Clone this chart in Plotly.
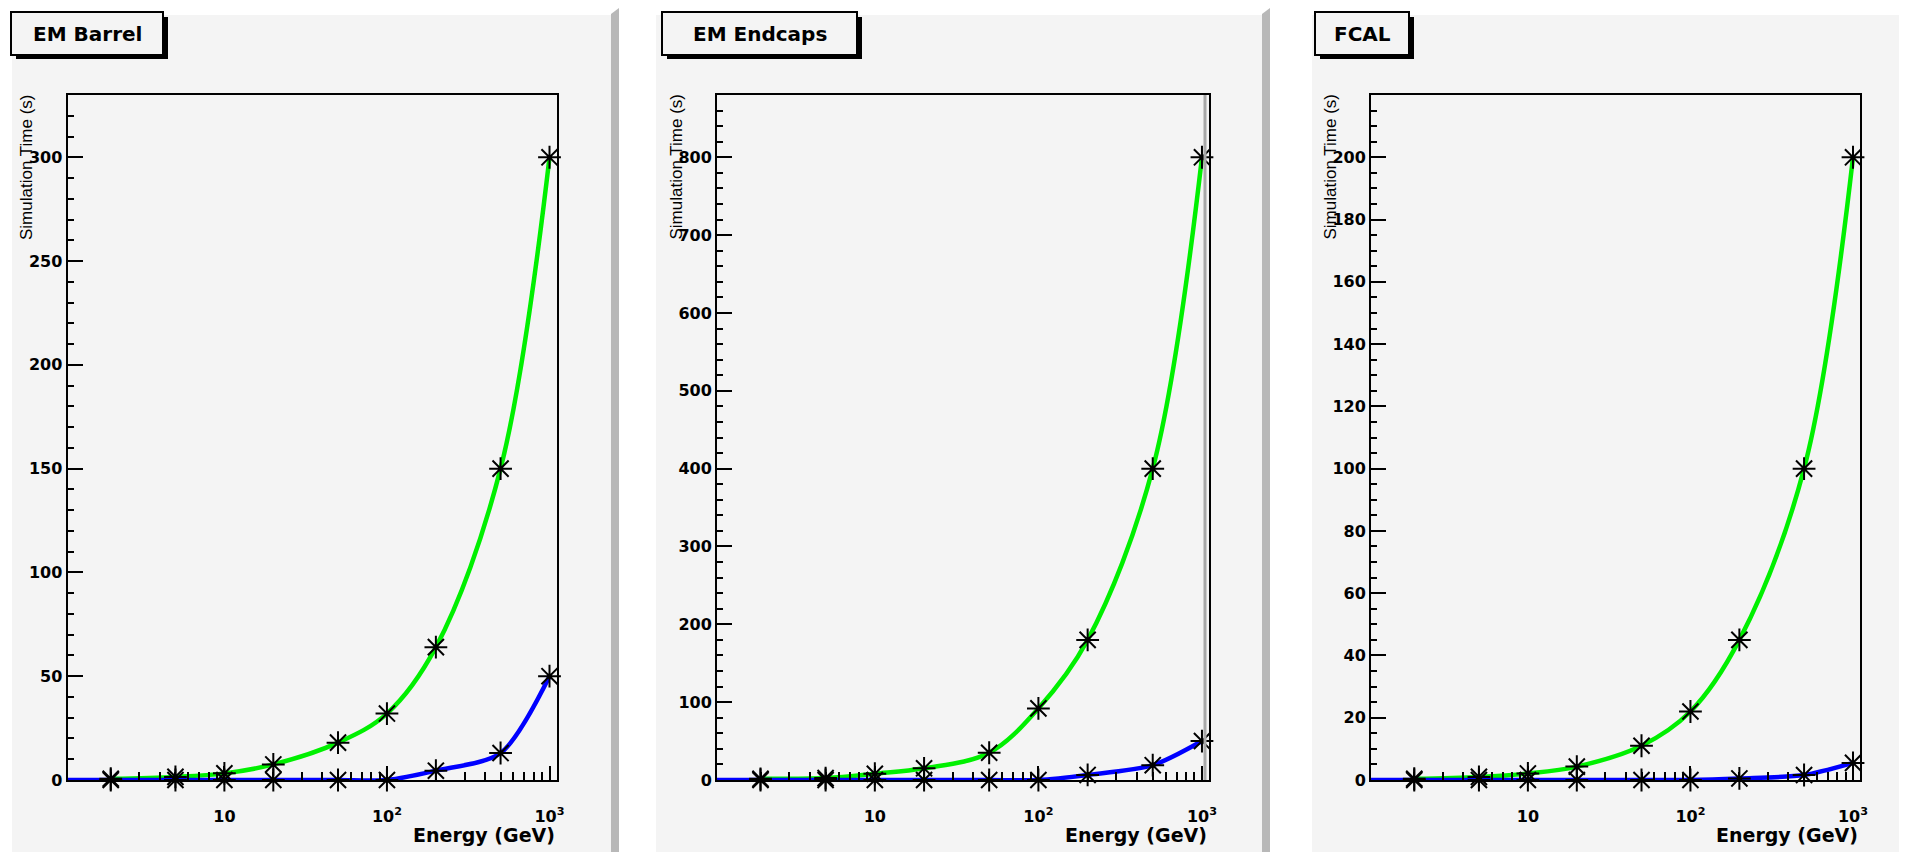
import plotly.graph_objects as go

# ---------------- data ----------------
energy = [2, 5, 10, 20, 50, 100, 200, 500, 1000]
curve_start_energy = 1.08          # the fitted curves start at the left frame edge
curve_start_value = 0.0

panel_titles = ["EM Barrel", "EM Endcaps", "FCAL"]

barrel_green = [0.6, 1.5, 3.2, 7.5, 18, 32, 64, 150, 300]
barrel_blue = [0, 0, 0, 0, 0, 0, 4.5, 13, 50]
endcap_green = [1.5, 2.5, 8, 15, 35, 92, 180, 400, 800]
endcap_blue = [0, 0, 0, 0, 0, 0, 6.5, 19, 50]
fcal_green = [0.4, 1.0, 2.1, 4.3, 11, 22, 45, 100, 200]
fcal_blue = [0, 0, 0, 0, 0, 0, 0.5, 1.6, 5.5]

green_series = [barrel_green, endcap_green, fcal_green]
blue_series = [barrel_blue, endcap_blue, fcal_blue]

y_max = [330, 880, 220]
y_ticks_barrel = [0, 50, 100, 150, 200, 250, 300]
y_ticks_endcap = [0, 100, 200, 300, 400, 500, 600, 700, 800]
y_ticks_fcal = [0, 20, 40, 60, 80, 100, 120, 140, 160, 180, 200]
y_ticks = [y_ticks_barrel, y_ticks_endcap, y_ticks_fcal]
y_minor_step = [10, 20, 5]

x_tickvals = [10, 100, 1000]
x_ticktext = ["10", "10<sup>2</sup>", "10<sup>3</sup>"]
x_minor_tickvals = [2, 3, 4, 5, 6, 7, 8, 9,
                    20, 30, 40, 50, 60, 70, 80, 90,
                    200, 300, 400, 500, 600, 700, 800, 900]
x_log_range = [0.035, 3.043]

y_title = "Simulation Time (s)"
x_title = "Energy (GeV)"

# ---------------- layout geometry (screen pixels) ----------------
PAGE_MARGIN = 8                 # default body margin of the html page
W, H = 1907 - 2 * PAGE_MARGIN, 860 - 2 * PAGE_MARGIN

def px(x):
    return (x - PAGE_MARGIN) / W

def py(y):
    return 1 - (y - PAGE_MARGIN) / H

frames = [(67.5, 556.5), (717, 1209), (1371, 1860)]
frame_top, frame_bottom = 95, 780
panel_bg = [(12, 611), (656, 1262), (1312, 1915)]
bars = [(611, 619), (1262, 1270)]
title_boxes = [(11, 163), (662, 857), (1315, 1409)]
box_top, box_bottom = 12, 55

BG = "#f4f4f4"
GREEN = "#00f000"
BLUE = "#0000ff"
TICK_FONT = dict(family="DejaVu Sans", size=16, color="black", weight=700)

fig = go.Figure()

for i in range(3):
    ax = "" if i == 0 else str(i + 1)
    xa, ya = "x" + ax, "y" + ax
    fig.add_trace(go.Scatter(x=energy, y=green_series[i], mode="lines",
                             line=dict(color=GREEN, width=4.5, shape="spline", smoothing=1),
                             xaxis=xa, yaxis=ya, showlegend=False, hoverinfo="skip"))
    fig.add_trace(go.Scatter(x=[curve_start_energy] + energy,
                             y=[curve_start_value] + blue_series[i], mode="lines",
                             line=dict(color=BLUE, width=4.5, shape="spline", smoothing=0.8),
                             xaxis=xa, yaxis=ya, showlegend=False, hoverinfo="skip",
                             cliponaxis=False))
    for ser in (green_series[i], blue_series[i]):
        fig.add_trace(go.Scatter(x=energy, y=ser, mode="markers",
                                 marker=dict(symbol="asterisk-open", size=19, color="black",
                                             line=dict(color="black", width=2)),
                                 xaxis=xa, yaxis=ya, showlegend=False, cliponaxis=False))

    x0, x1 = frames[i]
    fig.layout["xaxis" + ax] = dict(
        type="log", range=x_log_range, domain=[px(x0), px(x1)], anchor=ya,
        showline=True, linecolor="black", linewidth=2, mirror=True,
        showgrid=False, zeroline=False, automargin=False,
        tickmode="array", tickvals=x_tickvals, ticktext=x_ticktext,
        ticks="inside", ticklen=14, tickwidth=2, tickcolor="black",
        ticklabelstandoff=21, tickfont=TICK_FONT,
        minor=dict(tickmode="array", tickvals=x_minor_tickvals, ticks="inside",
                   ticklen=8, tickwidth=2, tickcolor="black", showgrid=False),
    )
    fig.layout["yaxis" + ax] = dict(
        range=[0, y_max[i]], domain=[py(frame_bottom), py(frame_top)], anchor=xa,
        showline=True, linecolor="black", linewidth=2, mirror=True,
        showgrid=False, zeroline=False, automargin=False,
        tickmode="array", tickvals=y_ticks[i],
        ticks="inside", ticklen=15, tickwidth=2, tickcolor="black",
        tickfont=TICK_FONT,
        minor=dict(tickmode="linear", tick0=0, dtick=y_minor_step[i], ticks="inside",
                   ticklen=6, tickwidth=2, tickcolor="black", showgrid=False),
    )

    # axis titles
    fig.add_annotation(text=y_title, textangle=-90, showarrow=False,
                       xref=xa + " domain", yref=ya + " domain", x=0, y=1,
                       xanchor="center", yanchor="top", xshift=-41, yshift=2,
                       font=dict(family="Liberation Sans", size=17, color="black"))
    fig.add_annotation(text=x_title, showarrow=False,
                       xref=xa + " domain", yref=ya + " domain", x=1, y=0,
                       xanchor="right", yanchor="middle", yshift=-55,
                       font=dict(family="DejaVu Sans", size=19, color="black", weight=700))

shapes = []
for (a, b) in panel_bg:
    shapes.append(dict(type="rect", xref="paper", yref="paper", x0=px(a), x1=px(b),
                       y0=py(880), y1=py(15), fillcolor=BG, line=dict(width=0), layer="below"))
for (a, b) in bars:
    path = f"M {px(a)} {py(14)} L {px(b)} {py(8)} L {px(b)} {py(880)} L {px(a)} {py(880)} Z"
    shapes.append(dict(type="path", xref="paper", yref="paper", path=path,
                       fillcolor="#b8b8b8", line=dict(width=0), layer="below"))
# gray inner line along the right frame of the middle panel
shapes.append(dict(type="line", xref="paper", yref="paper", x0=px(1205), x1=px(1205),
                   y0=py(frame_bottom), y1=py(frame_top), line=dict(color="#a8a8a8", width=3),
                   layer="above"))
for (a, b) in title_boxes:
    shapes.append(dict(type="rect", xref="paper", yref="paper", x0=px(a + 5), x1=px(b + 5),
                       y0=py(box_bottom + 4), y1=py(box_top + 5), fillcolor="black",
                       line=dict(width=0), layer="above"))
    shapes.append(dict(type="rect", xref="paper", yref="paper", x0=px(a), x1=px(b),
                       y0=py(box_bottom), y1=py(box_top), fillcolor=BG,
                       line=dict(color="black", width=2), layer="above"))
fig.update_layout(shapes=shapes)

for (a, b), t in zip(title_boxes, panel_titles):
    fig.add_annotation(text=t, showarrow=False, xref="paper", yref="paper",
                       x=px((a + b) / 2), y=py((box_top + box_bottom) / 2),
                       xanchor="center", yanchor="middle",
                       font=dict(family="DejaVu Sans", size=20, color="black", weight=700))

fig.update_layout(width=W, height=H, margin=dict(l=0, r=0, t=0, b=0),
                  paper_bgcolor="white", plot_bgcolor=BG, showlegend=False)

fig.write_html("out.html")
